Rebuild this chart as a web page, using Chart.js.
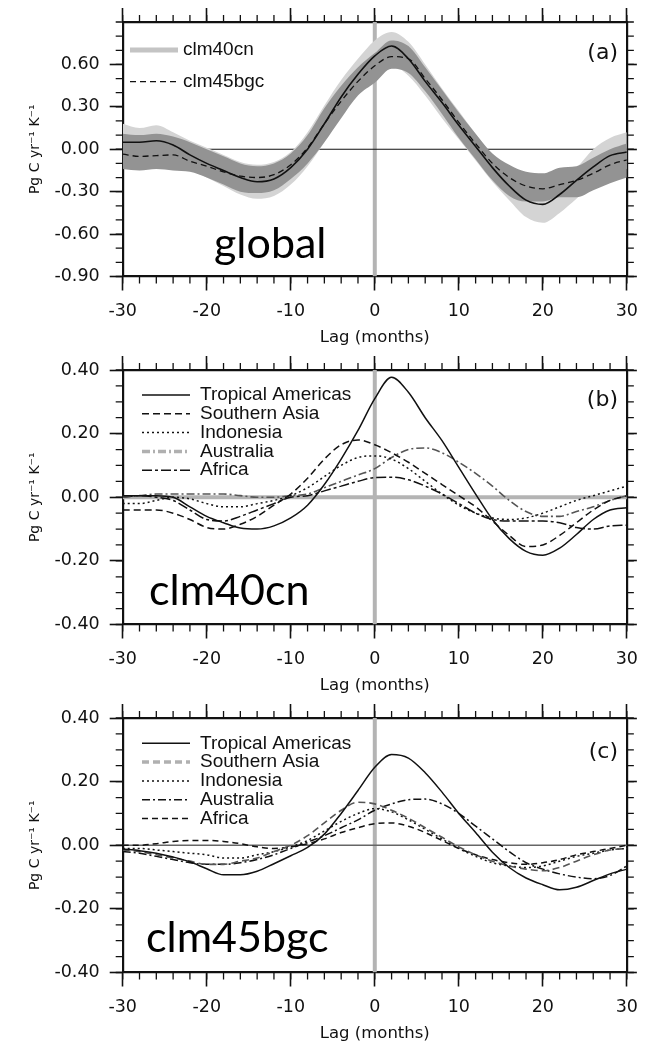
<!DOCTYPE html>
<html>
<head>
<meta charset="utf-8">
<script src="https://cdn.jsdelivr.net/npm/chart.js@4/dist/chart.umd.min.js"></script>
<style>
  html, body { margin: 0; padding: 0; background: #fff; }
  #wrap { position: relative; width: 648px; height: 1045px; overflow: hidden; }
  #wrap canvas { position: absolute; left: 0; }
</style>
</head>
<body>
<div id="wrap">
  <canvas id="panelA" width="648" height="348" style="top:0"></canvas>
  <canvas id="panelB" width="648" height="348" style="top:348px"></canvas>
  <canvas id="panelC" width="648" height="348" style="top:696px"></canvas>
</div>
<script>
// lag axis (months), shared by all three panels
const LAG_MIN = -30, LAG_MAX = 30;
const LAGS = [-30, -28, -26, -24, -22, -20, -18, -16, -14, -12, -10, -8, -6, -4, -2, 0,
               2, 4, 6, 8, 10, 12, 14, 16, 18, 20, 22, 24, 26, 28, 30];
const X_TICKS = [-30, -20, -10, 0, 10, 20, 30];

// (a) global sensitivity, model mean and spread
const GLOBAL_CLM40CN    = [0.05, 0.05, 0.06, 0.03, -0.04, -0.10, -0.15, -0.20, -0.23, -0.21, -0.13, 0.00, 0.18, 0.37, 0.53, 0.66,
                           0.73, 0.64, 0.48, 0.33, 0.17, 0.02, -0.13, -0.26, -0.36, -0.39, -0.32, -0.22, -0.125, -0.045, -0.02];
const GLOBAL_CLM45BGC   = [-0.035, -0.05, -0.045, -0.04, -0.085, -0.12, -0.16, -0.19, -0.20, -0.18, -0.11, 0.01, 0.18, 0.34, 0.48, 0.59,
                           0.655, 0.64, 0.50, 0.35, 0.19, 0.04, -0.10, -0.20, -0.26, -0.28, -0.25, -0.22, -0.17, -0.11, -0.075];
const GLOBAL_CLM40CN_HI = [0.18, 0.15, 0.17, 0.12, 0.06, 0.01, -0.04, -0.09, -0.11, -0.09, -0.02, 0.12, 0.31, 0.49, 0.64, 0.77,
                           0.83, 0.76, 0.60, 0.43, 0.27, 0.11, -0.04, -0.15, -0.24, -0.27, -0.20, -0.13, 0.00, 0.08, 0.12];
const GLOBAL_CLM40CN_LO = [-0.12, -0.12, -0.11, -0.13, -0.15, -0.20, -0.26, -0.32, -0.35, -0.33, -0.25, -0.12, 0.05, 0.24, 0.40, 0.52,
                           0.59, 0.52, 0.38, 0.22, 0.07, -0.08, -0.23, -0.36, -0.48, -0.52, -0.45, -0.35, -0.25, -0.17, -0.14];
const GLOBAL_CLM45BGC_HI = [0.11, 0.10, 0.11, 0.09, 0.05, 0.00, -0.05, -0.10, -0.12, -0.10, -0.03, 0.10, 0.29, 0.45, 0.58, 0.68,
                            0.77, 0.73, 0.58, 0.42, 0.26, 0.11, -0.03, -0.11, -0.16, -0.17, -0.13, -0.12, -0.06, 0.00, 0.04];
const GLOBAL_CLM45BGC_LO = [-0.14, -0.15, -0.14, -0.15, -0.16, -0.20, -0.25, -0.30, -0.31, -0.29, -0.21, -0.10, 0.05, 0.22, 0.38, 0.47,
                            0.57, 0.54, 0.41, 0.25, 0.08, -0.07, -0.22, -0.33, -0.37, -0.37, -0.34, -0.34, -0.29, -0.24, -0.20];
const Y_TICKS_A = [-0.9, -0.6, -0.3, 0, 0.3, 0.6];

// (b) regional sensitivity, clm40cn
const CN_TROP_AMERICAS = [0.005, 0.005, 0.005, 0.0, -0.03, -0.06, -0.08, -0.097, -0.10, -0.09, -0.065, -0.025, 0.04, 0.12, 0.21, 0.31,
                          0.377, 0.33, 0.25, 0.178, 0.094, 0.01, -0.07, -0.13, -0.17, -0.182, -0.16, -0.117, -0.07, -0.04, -0.033];
const CN_SOUTHERN_ASIA = [-0.04, -0.04, -0.04, -0.05, -0.07, -0.095, -0.10, -0.085, -0.06, -0.025, 0.01, 0.06, 0.12, 0.165, 0.18, 0.165,
                          0.14, 0.11, 0.075, 0.04, 0.005, -0.03, -0.075, -0.12, -0.155, -0.15, -0.12, -0.08, -0.04, -0.01, 0.005];
const CN_INDONESIA     = [-0.02, -0.02, -0.01, 0.0, -0.005, -0.02, -0.03, -0.03, -0.02, -0.01, 0.005, 0.03, 0.065, 0.10, 0.125, 0.13,
                          0.12, 0.09, 0.05, 0.01, -0.025, -0.05, -0.065, -0.07, -0.065, -0.05, -0.03, -0.01, 0.005, 0.02, 0.035];
const CN_AUSTRALIA     = [0.0, 0.005, 0.01, 0.01, 0.01, 0.01, 0.01, 0.005, 0.0, 0.0, 0.005, 0.01, 0.03, 0.05, 0.07, 0.09,
                          0.125, 0.15, 0.155, 0.14, 0.11, 0.075, 0.035, -0.01, -0.045, -0.06, -0.06, -0.045, -0.03, -0.01, 0.005];
const CN_AFRICA        = [0.0, 0.005, 0.0, -0.01, -0.04, -0.07, -0.075, -0.06, -0.04, -0.02, 0.0, 0.005, 0.02, 0.035, 0.05, 0.062,
                          0.063, 0.055, 0.035, 0.01, -0.02, -0.05, -0.07, -0.075, -0.075, -0.075, -0.08, -0.095, -0.10, -0.09, -0.088];

// (c) regional sensitivity, clm45bgc
const BGC_TROP_AMERICAS = [-0.012, -0.017, -0.025, -0.037, -0.052, -0.074, -0.093, -0.093, -0.082, -0.058, -0.033, -0.007, 0.035, 0.10, 0.172, 0.245,
                           0.285, 0.274, 0.228, 0.167, 0.10, 0.04, -0.022, -0.07, -0.103, -0.124, -0.14, -0.132, -0.111, -0.09, -0.075];
const BGC_SOUTHERN_ASIA = [-0.015, -0.02, -0.03, -0.04, -0.05, -0.06, -0.06, -0.05, -0.04, -0.02, 0.0, 0.03, 0.07, 0.11, 0.135, 0.13,
                           0.11, 0.085, 0.055, 0.025, -0.005, -0.03, -0.05, -0.065, -0.075, -0.08, -0.07, -0.05, -0.03, -0.015, -0.01];
const BGC_INDONESIA     = [-0.01, -0.01, -0.015, -0.02, -0.025, -0.03, -0.04, -0.04, -0.03, -0.02, -0.005, 0.015, 0.045, 0.075, 0.10, 0.115,
                           0.105, 0.08, 0.05, 0.02, -0.01, -0.035, -0.055, -0.065, -0.07, -0.065, -0.05, -0.035, -0.025, -0.015, -0.01];
const BGC_AUSTRALIA     = [-0.02, -0.025, -0.035, -0.045, -0.055, -0.06, -0.06, -0.055, -0.045, -0.03, -0.01, 0.01, 0.03, 0.055, 0.08, 0.11,
                           0.13, 0.143, 0.145, 0.13, 0.10, 0.06, 0.02, -0.02, -0.055, -0.075, -0.09, -0.10, -0.105, -0.095, -0.065];
const BGC_AFRICA        = [0.0, 0.0, 0.005, 0.012, 0.015, 0.015, 0.012, 0.005, -0.005, -0.01, -0.005, 0.005, 0.02, 0.04, 0.055, 0.068,
                           0.07, 0.06, 0.04, 0.015, -0.01, -0.03, -0.045, -0.055, -0.06, -0.055, -0.045, -0.03, -0.02, -0.01, 0.0];
const Y_TICKS_REGION = [-0.4, -0.2, 0, 0.2, 0.4];

const AXIS_FONT = "'DejaVu Sans', Verdana, sans-serif";
const KEY_FONT = "'Liberation Sans', Arial, Helvetica, sans-serif";
const INK = '#111';
const Y_TITLE = 'Pg C yr\u207B\u00B9 K\u207B\u00B9';

function pts(ys) { return LAGS.map((x, i) => ({ x: x, y: ys[i] })); }

function curve(label, ys, style, order) {
  return Object.assign({
    label: label, data: pts(ys), order: order,
    borderColor: INK, borderWidth: 1.5, borderDash: [],
    pointRadius: 0, fill: false, cubicInterpolationMode: 'monotone'
  }, style);
}

// band = upper edge filled down to the dataset right after it
function band(label, hi, lo, color, order) {
  const common = { pointRadius: 0, borderWidth: 0, borderColor: 'transparent', cubicInterpolationMode: 'monotone', order: order };
  return [
    Object.assign({ label: label + ' hi', data: pts(hi), fill: '+1', backgroundColor: color }, common),
    Object.assign({ label: label + ' lo', data: pts(lo), fill: false }, common)
  ];
}

// zero line and zero-lag line
function refLines(yMin, yMax, zeroStyle) {
  return [
    Object.assign({ label: 'zero', data: [{ x: LAG_MIN, y: 0 }, { x: LAG_MAX, y: 0 }], pointRadius: 0, order: 40 }, zeroStyle),
    { label: 'lag0', data: [{ x: 0, y: yMin }, { x: 0, y: yMax }], borderColor: '#b4b4b4', borderWidth: 4, pointRadius: 0, order: 41 }
  ];
}

function makeScales(yMin, yMax, yTicks) {
  const tickFont = { family: AXIS_FONT, size: 17.5 };
  const edge = { display: true, width: 2.2, color: INK };
  const marks = len => ({ drawOnChartArea: false, drawTicks: true, tickLength: len, tickWidth: 1.6, tickColor: INK });
  const setX = s => { s.ticks = X_TICKS.map(v => ({ value: v })); };
  const setY = s => { s.ticks = yTicks.map(v => ({ value: v })); };
  return {
    x: {
      type: 'linear', position: 'bottom', min: LAG_MIN, max: LAG_MAX, afterBuildTicks: setX,
      ticks: { font: tickFont, color: INK, padding: 10, maxRotation: 0, autoSkip: false, callback: v => String(v) },
      grid: marks(14), border: edge,
      title: { display: true, text: 'Lag (months)', color: INK, font: { family: AXIS_FONT, size: 16.5 }, padding: { top: 0, bottom: 0 } },
      afterFit: s => { s.height = 71.5; }
    },
    xTop: {
      type: 'linear', position: 'top', min: LAG_MIN, max: LAG_MAX, afterBuildTicks: setX,
      ticks: { display: false }, grid: marks(14), border: edge,
      afterFit: s => { s.height = 22; }
    },
    y: {
      type: 'linear', position: 'left', min: yMin, max: yMax, afterBuildTicks: setY,
      ticks: { font: tickFont, color: INK, padding: 10, callback: v => v.toFixed(2) },
      grid: marks(13), border: edge,
      title: { display: true, text: Y_TITLE, color: INK, font: { family: AXIS_FONT, size: 14 }, padding: { top: 27, bottom: 0 } },
      afterFit: s => { s.width = 122.7; }
    },
    yRight: {
      type: 'linear', position: 'right', min: yMin, max: yMax, afterBuildTicks: setY,
      ticks: { display: false }, grid: marks(10), border: edge,
      afterFit: s => { s.width = 15.7; }
    }
  };
}

// short outward ticks between the labelled ones
const minorTicks = {
  id: 'minorTicks',
  afterDraw(chart, args, o) {
    const { ctx, chartArea: a, scales } = chart;
    const xs = scales.x, ys = scales.y;
    ctx.save();
    ctx.strokeStyle = INK;
    ctx.lineWidth = 1.3;
    ctx.beginPath();
    const nx = Math.round((xs.max - xs.min) / o.xStep);
    for (let i = 0; i <= nx; i++) {
      const px = xs.getPixelForValue(xs.min + i * o.xStep);
      ctx.moveTo(px, a.bottom); ctx.lineTo(px, a.bottom + o.len);
      ctx.moveTo(px, a.top); ctx.lineTo(px, a.top - o.len);
    }
    const ny = Math.round((ys.max - ys.min) / o.yStep);
    for (let i = 0; i <= ny; i++) {
      const py = ys.getPixelForValue(ys.min + i * o.yStep);
      ctx.moveTo(a.left, py); ctx.lineTo(a.left - o.len, py);
      ctx.moveTo(a.right, py); ctx.lineTo(a.right + o.len, py);
    }
    ctx.stroke();
    ctx.restore();
  }
};

// in-plot legend, panel tag and big caption
const panelText = {
  id: 'panelText',
  afterDraw(chart, args, o) {
    const ctx = chart.ctx;
    ctx.save();
    ctx.font = '19px ' + KEY_FONT;
    ctx.textBaseline = 'middle';
    ctx.textAlign = 'left';
    o.items.forEach((it, i) => {
      const ds = chart.data.datasets.find(d => d.label === it.label);
      const y = o.y0 + i * o.rowH;
      ctx.strokeStyle = it.color || ds.borderColor;
      ctx.lineWidth = it.width || ds.borderWidth;
      ctx.setLineDash(it.dash || ds.borderDash || []);
      ctx.beginPath();
      ctx.moveTo(o.x0, y);
      ctx.lineTo(o.x0 + o.len, y);
      ctx.stroke();
      ctx.setLineDash([]);
      ctx.fillStyle = INK;
      ctx.fillText(it.label, o.x0 + o.len + o.gap, y);
    });
    ctx.font = '22px ' + AXIS_FONT;
    ctx.textAlign = 'right';
    ctx.fillText(o.tag, o.tagX, o.tagY);
    ctx.font = '43px Lato, "Noto Sans", sans-serif';
    ctx.textAlign = 'left';
    ctx.textBaseline = 'alphabetic';
    ctx.fillStyle = '#000';
    ctx.fillText(o.note, o.noteX, o.noteY);
    ctx.restore();
  }
};

function makeChart(id, datasets, yMin, yMax, yTicks, yStep, text) {
  return new Chart(document.getElementById(id), {
    type: 'line',
    data: { datasets: datasets },
    options: {
      responsive: false, animation: false, devicePixelRatio: 1,
      layout: { padding: 0 },
      scales: makeScales(yMin, yMax, yTicks),
      plugins: {
        legend: { display: false }, tooltip: { enabled: false },
        minorTicks: { xStep: 2, yStep: yStep, len: 7 },
        panelText: text
      }
    },
    plugins: [minorTicks, panelText]
  });
}

const DASH = { 'Southern Asia': [7, 4], 'Indonesia': [2, 3], 'Australia': [8, 3, 2, 3], 'Africa': [10, 3, 3, 3] };

// (a) global
makeChart('panelA', [
  curve('clm40cn', GLOBAL_CLM40CN, { borderWidth: 1.6 }, 1),
  curve('clm45bgc', GLOBAL_CLM45BGC, { borderWidth: 1.3, borderDash: [6, 4] }, 0),
  ...band('clm45bgc range', GLOBAL_CLM45BGC_HI, GLOBAL_CLM45BGC_LO, '#939393', 20),
  ...band('clm40cn range', GLOBAL_CLM40CN_HI, GLOBAL_CLM40CN_LO, '#d4d4d4', 21),
  ...refLines(-0.9, 0.9, { borderColor: INK, borderWidth: 1.2 })
], -0.9, 0.9, Y_TICKS_A, 0.1, {
  x0: 130, len: 48, gap: 5, y0: 50, rowH: 31.7,
  items: [{ label: 'clm40cn', color: '#c4c4c4', width: 5, dash: [] }, { label: 'clm45bgc' }],
  tag: '(a)', tagX: 618, tagY: 53,
  note: 'global', noteX: 214, noteY: 258
});

// (b) clm40cn regions
makeChart('panelB', [
  curve('Tropical Americas', CN_TROP_AMERICAS, {}, 0),
  curve('Southern Asia', CN_SOUTHERN_ASIA, { borderDash: DASH['Southern Asia'] }, 1),
  curve('Indonesia', CN_INDONESIA, { borderDash: DASH['Indonesia'] }, 2),
  curve('Australia', CN_AUSTRALIA, { borderDash: DASH['Australia'], borderColor: '#555', borderWidth: 1.6 }, 3),
  curve('Africa', CN_AFRICA, { borderDash: DASH['Africa'] }, 4),
  ...refLines(-0.4, 0.4, { borderColor: '#b4b4b4', borderWidth: 4 })
], -0.4, 0.4, Y_TICKS_REGION, 0.05, {
  x0: 142, len: 48, gap: 10, y0: 47, rowH: 18.8,
  items: [{ label: 'Tropical Americas' }, { label: 'Southern Asia' }, { label: 'Indonesia' },
          { label: 'Australia', color: '#b0b0b0', width: 3.5 }, { label: 'Africa' }],
  tag: '(b)', tagX: 618, tagY: 52,
  note: 'clm40cn', noteX: 149, noteY: 257
});

// (c) clm45bgc regions
makeChart('panelC', [
  curve('Tropical Americas', BGC_TROP_AMERICAS, {}, 0),
  curve('Southern Asia', BGC_SOUTHERN_ASIA, { borderDash: DASH['Southern Asia'], borderColor: '#555', borderWidth: 1.6 }, 1),
  curve('Indonesia', BGC_INDONESIA, { borderDash: DASH['Indonesia'] }, 2),
  curve('Australia', BGC_AUSTRALIA, { borderDash: DASH['Australia'] }, 3),
  curve('Africa', BGC_AFRICA, { borderDash: [6, 4] }, 4),
  ...refLines(-0.4, 0.4, { borderColor: '#666', borderWidth: 1.5 })
], -0.4, 0.4, Y_TICKS_REGION, 0.05, {
  x0: 142, len: 48, gap: 10, y0: 47.3, rowH: 18.8,
  items: [{ label: 'Tropical Americas' }, { label: 'Southern Asia', color: '#b0b0b0', width: 3.5 },
          { label: 'Indonesia' }, { label: 'Australia' }, { label: 'Africa' }],
  tag: '(c)', tagX: 618, tagY: 56,
  note: 'clm45bgc', noteX: 146, noteY: 256
});
</script>
</body>
</html>
